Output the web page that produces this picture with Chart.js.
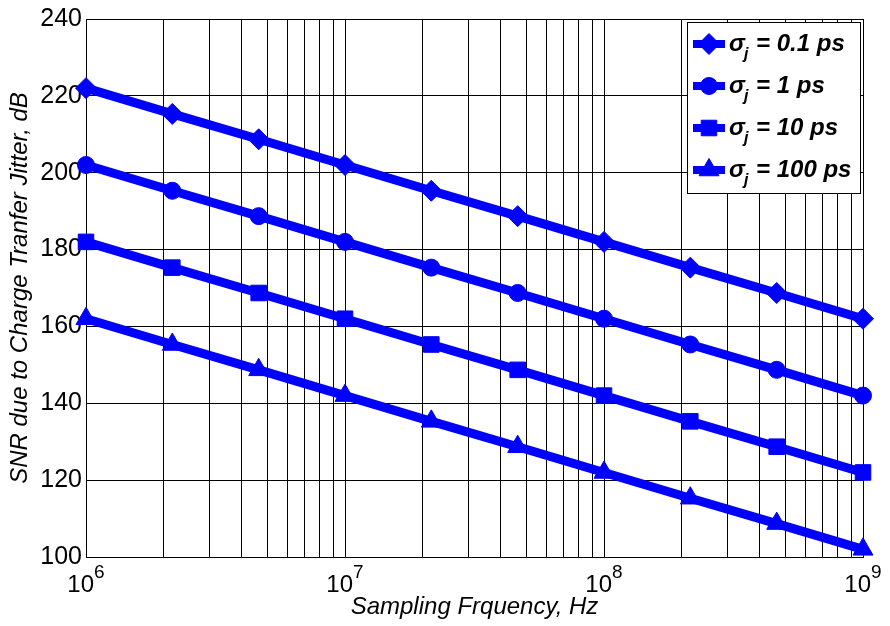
<!DOCTYPE html>
<html>
<head>
<meta charset="utf-8">
<script src="https://cdn.jsdelivr.net/npm/chart.js@4.4.1/dist/chart.umd.min.js"></script>
<style>
    body { margin: 0; background: #fff; }
    #wrap { width: 890px; height: 626px; }
</style>
</head>
<body>
<div id="wrap"><canvas id="snrChart" width="890" height="626"></canvas></div>
<script>
// Sampling frequency points (Hz), three per decade
const freqs = [1e6, 2.154e6, 4.642e6, 1e7, 2.154e7, 4.642e7, 1e8, 2.154e8, 4.642e8, 1e9];

// SNR values in dB
const snr01 = [222, 215.3, 208.7, 202, 195.3, 188.7, 182, 175.3, 168.7, 162];
const snr1 = [202, 195.3, 188.7, 182, 175.3, 168.7, 162, 155.3, 148.7, 142];
const snr10 = [182, 175.3, 168.7, 162, 155.3, 148.7, 142, 135.3, 128.7, 122];
const snr100 = [162, 155.3, 148.7, 142, 135.3, 128.7, 122, 115.3, 108.7, 102];

const seriesLabels = ['0.1 ps', '1 ps', '10 ps', '100 ps'];
const xTickValues = [1e6, 2e6, 3e6, 4e6, 5e6, 6e6, 7e6, 8e6, 9e6,
                     1e7, 2e7, 3e7, 4e7, 5e7, 6e7, 7e7, 8e7, 9e7,
                     1e8, 2e8, 3e8, 4e8, 5e8, 6e8, 7e8, 8e8, 9e8, 1e9];
const xMajorExponents = [6, 7, 8, 9];

const BLUE = '#0000ff';
const FONT = '"Liberation Sans", Arial, sans-serif';

const markers = [
    { style: 'rectRot', radius: 10.5 },
    { style: 'circle', radius: 8.5 },
    { style: 'rect', radius: 11 },
    { style: 'triangle', radius: 11.5 }
];

function makeDataset(values, i) {
    return {
        label: seriesLabels[i],
        data: freqs.map((f, k) => ({ x: f, y: values[k] })),
        borderColor: BLUE,
        backgroundColor: BLUE,
        borderWidth: 9,
        pointStyle: markers[i].style,
        pointRadius: markers[i].radius,
        pointBorderWidth: 1,
        pointBorderColor: BLUE,
        pointBackgroundColor: BLUE,
        tension: 0,
        clip: false
    };
}

// Draws the 10^n tick labels and the legend box
const extrasPlugin = {
    id: 'extras',
    afterDraw(chart) {
        const ctx = chart.ctx;
        const xScale = chart.scales.x;
        ctx.save();
        ctx.fillStyle = '#000';
        ctx.textBaseline = 'alphabetic';

        // x tick labels with superscript exponent
        xMajorExponents.forEach(exp => {
            const px = xScale.getPixelForValue(Math.pow(10, exp));
            ctx.font = '24px ' + FONT;
            const baseW = ctx.measureText('10').width;
            ctx.font = '19px ' + FONT;
            const supW = ctx.measureText(String(exp)).width;
            const start = px - (baseW + supW) / 2;
            ctx.font = '24px ' + FONT;
            ctx.textAlign = 'left';
            ctx.fillText('10', start, 592);
            ctx.font = '19px ' + FONT;
            ctx.fillText(String(exp), start + baseW, 578);
        });

        // legend
        const box = { left: 687, top: 22, right: 860, bottom: 193 };
        ctx.fillStyle = '#fff';
        ctx.fillRect(box.left, box.top, box.right - box.left, box.bottom - box.top);
        ctx.strokeStyle = '#000';
        ctx.lineWidth = 1;
        ctx.strokeRect(box.left + 0.5, box.top + 0.5, box.right - box.left, box.bottom - box.top);

        const rowY = [44, 86, 128, 170];
        rowY.forEach((y, i) => {
            ctx.strokeStyle = BLUE;
            ctx.lineWidth = 8;
            ctx.beginPath();
            ctx.moveTo(693, y);
            ctx.lineTo(725, y);
            ctx.stroke();
            ctx.fillStyle = BLUE;
            ctx.lineWidth = 1;
            Chart.helpers.drawPoint(ctx, {
                pointStyle: markers[i].style,
                radius: markers[i].radius,
                rotation: 0,
                borderWidth: 1
            }, 709, y);

            ctx.fillStyle = '#000';
            ctx.textAlign = 'left';
            ctx.font = 'italic bold 24px ' + FONT;
            ctx.fillText('σ', 729, y + 7);
            const sigW = ctx.measureText('σ').width;
            ctx.font = 'italic bold 16px ' + FONT;
            ctx.fillText('j', 728 + sigW, y + 15);
            const jW = ctx.measureText('j').width;
            ctx.font = 'italic bold 24px ' + FONT;
            ctx.fillText(' = ' + seriesLabels[i], 729 + sigW + jW, y + 7);
        });
        ctx.restore();
    }
};

const ctx = document.getElementById('snrChart').getContext('2d');

new Chart(ctx, {
    type: 'line',
    data: {
        datasets: [snr01, snr1, snr10, snr100].map(makeDataset)
    },
    options: {
        responsive: false,
        animation: false,
        layout: {
            padding: { top: 16, right: 27, left: 0, bottom: 0 }
        },
        plugins: {
            legend: { display: false },
            tooltip: { enabled: false }
        },
        scales: {
            x: {
                type: 'logarithmic',
                min: 1e6,
                max: 1e9,
                afterBuildTicks: scale => {
                    scale.ticks = xTickValues.map(v => ({ value: v }));
                },
                afterFit: scale => { scale.height = 69; },
                ticks: { display: false },
                grid: {
                    color: '#000',
                    lineWidth: 1,
                    drawTicks: false
                },
                border: { color: '#000', width: 1 },
                title: {
                    display: true,
                    text: 'Sampling Frquency, Hz',
                    color: '#000',
                    font: { family: FONT, size: 24, style: 'italic' },
                    padding: { top: 0, bottom: 4 }
                }
            },
            y: {
                min: 100,
                max: 240,
                afterFit: scale => { scale.width = 86; },
                ticks: {
                    stepSize: 20,
                    color: '#000',
                    padding: 4,
                    font: { family: FONT, size: 25 }
                },
                grid: {
                    color: '#000',
                    lineWidth: 1,
                    drawTicks: false
                },
                border: { color: '#000', width: 1 },
                title: {
                    display: true,
                    text: 'SNR due to Charge Tranfer Jitter, dB',
                    color: '#000',
                    font: { family: FONT, size: 24, style: 'italic' },
                    padding: { top: 6, bottom: 0 }
                }
            }
        }
    },
    plugins: [extrasPlugin]
});
</script>
</body>
</html>
